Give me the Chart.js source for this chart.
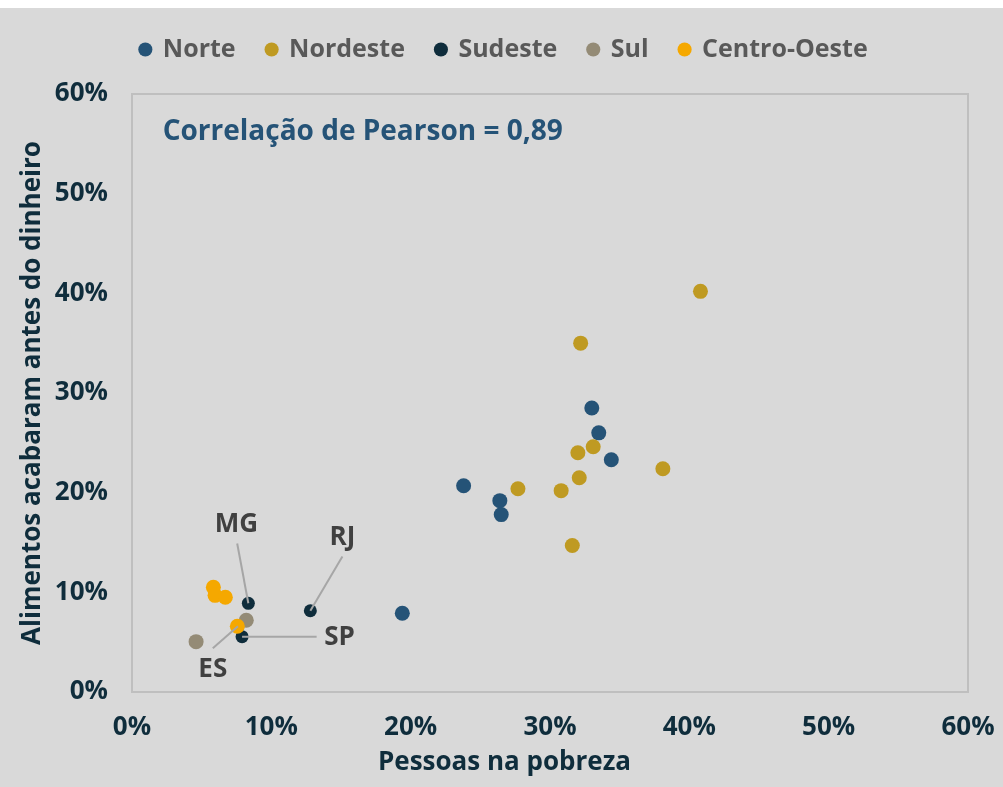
<!DOCTYPE html>
<html>
<head>
<meta charset="utf-8">
<script src="https://cdn.jsdelivr.net/npm/chart.js@4/dist/chart.umd.min.js"></script>
<style>
  body { margin: 0; background: #fff; }
  #wrap { position: absolute; left: 0; top: 8px; width: 1003px; height: 779px; background: #D9D9D9; }
</style>
</head>
<body>
<div id="wrap"><canvas id="c" width="1003" height="779"></canvas></div>
<script>
// Pessoas na pobreza (x, %) vs alimentos acabaram antes do dinheiro (y, %)
const norteX = [33.0, 33.5, 34.4, 23.8, 26.4, 26.5, 19.4];
const norteY = [28.5, 26.0, 23.3, 20.7, 19.2, 17.8, 7.9];

const nordesteX = [40.8, 32.2, 33.1, 32.0, 38.1, 32.1, 27.7, 30.8, 31.6];
const nordesteY = [40.2, 35.0, 24.6, 24.0, 22.4, 21.5, 20.4, 20.2, 14.7];

const sudesteUF = ['MG', 'RJ', 'SP', 'ES'];
const sudesteX = [8.35, 12.8, 7.9, 7.6];
const sudesteY = [8.9, 8.15, 5.55, 6.6];

const sulX = [8.2, 4.6];
const sulY = [7.2, 5.05];

const centroOesteX = [5.84, 5.96, 6.7, 7.56];
const centroOesteY = [10.5, 9.7, 9.5, 6.6];

const axisTicks = [0, 10, 20, 30, 40, 50, 60];
const pearsonText = 'Correlação de Pearson = 0,89';

// label placement for the Sudeste callouts (in axis units)
const callouts = {
    MG: { text: [7.5, 16.75], from: [7.55, 14.9] },
    RJ: { text: [15.1, 15.45], from: [15.1, 13.6] },
    SP: { text: [14.9, 5.5], from: [13.25, 5.55] },
    ES: { text: [5.8, 2.2], from: [5.8, 4.4] }
};

function pts(xs, ys) {
    return xs.map((x, i) => ({ x: x, y: ys[i] }));
}

const INK = '#0F2D3C';
Chart.defaults.font.family = "'Open Sans', sans-serif";

// legend is fixed in height so the plot box lands where it should,
// and nudged so it sits centred over the whole page like the original
const legendHeight = {
    id: 'legendHeight',
    beforeInit(chart) {
        const legend = chart.legend;
        const fit = legend.fit;
        legend.fit = function () {
            fit.bind(legend)();
            this.height = 86;
        };
        const draw = legend.draw;
        legend.draw = function () {
            const ctx = chart.ctx;
            ctx.save();
            ctx.translate(20, -2);
            draw.bind(legend)();
            ctx.restore();
        };
    }
};

const frameAndNotes = {
    id: 'frameAndNotes',
    beforeDatasetsDraw(chart) {
        const { ctx, chartArea: a } = chart;
        ctx.save();
        ctx.strokeStyle = '#BFBFBF';
        ctx.lineWidth = 2;
        ctx.strokeRect(a.left, a.top, a.right - a.left, a.bottom - a.top);
        ctx.restore();
    },
    afterDatasetsDraw(chart) {
        const { ctx, scales: { x, y } } = chart;
        ctx.save();
        // leader lines
        ctx.strokeStyle = '#A6A6A6';
        ctx.lineWidth = 2;
        sudesteUF.forEach((uf, i) => {
            const c = callouts[uf];
            ctx.beginPath();
            ctx.moveTo(x.getPixelForValue(c.from[0]), y.getPixelForValue(c.from[1]));
            ctx.lineTo(x.getPixelForValue(sudesteX[i]), y.getPixelForValue(sudesteY[i]));
            ctx.stroke();
        });
        ctx.fillStyle = '#404040';
        ctx.font = "bold 26px 'Open Sans', sans-serif";
        ctx.textAlign = 'center';
        ctx.textBaseline = 'middle';
        sudesteUF.forEach(uf => {
            const c = callouts[uf];
            ctx.fillText(uf, x.getPixelForValue(c.text[0]), y.getPixelForValue(c.text[1]));
        });
        // correlation note
        ctx.fillStyle = '#255377';
        ctx.font = "bold 28px 'Open Sans', sans-serif";
        ctx.textAlign = 'left';
        ctx.fillText(pearsonText, x.getPixelForValue(2.2), y.getPixelForValue(56.2));
        ctx.restore();
    }
};

const tickFont = { size: 26, weight: 'bold' };

new Chart(document.getElementById('c'), {
    type: 'scatter',
    data: {
        // reversed so Centro-Oeste is painted on top; legend is reversed back
        datasets: [
            { label: 'Centro-Oeste', data: pts(centroOesteX, centroOesteY), backgroundColor: '#F5A800', pointRadius: 7.5 },
            { label: 'Sul', data: pts(sulX, sulY), backgroundColor: '#948B76', pointRadius: 7.5 },
            { label: 'Sudeste', data: pts(sudesteX, sudesteY), backgroundColor: '#0F2D3C', pointRadius: 6.5 },
            { label: 'Nordeste', data: pts(nordesteX, nordesteY), backgroundColor: '#BF9A22', pointRadius: 7.5 },
            { label: 'Norte', data: pts(norteX, norteY), backgroundColor: '#255377', pointRadius: 7.5 }
        ].map(d => Object.assign(d, { borderWidth: 0, pointHoverRadius: d.pointRadius }))
    },
    options: {
        responsive: false,
        animation: false,
        layout: { padding: { left: 0, right: 35, top: 0, bottom: 0 } },
        plugins: {
            tooltip: { enabled: false },
            legend: {
                position: 'top',
                reverse: true,
                labels: {
                    usePointStyle: true,
                    pointStyle: 'circle',
                    boxWidth: 10,
                    boxHeight: 10,
                    padding: 31,
                    color: '#595959',
                    font: { size: 25, weight: 'bold' }
                }
            }
        },
        scales: {
            x: {
                min: 0, max: 60,
                afterBuildTicks: s => { s.ticks = axisTicks.map(v => ({ value: v })); },
                afterFit: s => { s.height = 95; s.paddingLeft = 0; s.paddingRight = 0; },
                grid: { display: false, drawTicks: false },
                border: { display: false },
                ticks: { callback: v => v + '%', color: INK, font: tickFont, padding: 20, maxRotation: 0 },
                title: {
                    display: true,
                    text: 'Pessoas na pobreza' + '\u2002'.repeat(7),
                    color: INK,
                    font: { size: 26, weight: 'bold' },
                    padding: { top: 9, bottom: 9 }
                }
            },
            y: {
                min: 0, max: 60,
                afterBuildTicks: s => { s.ticks = axisTicks.map(v => ({ value: v })); },
                afterFit: s => { s.width = 132; s.paddingTop = 0; s.paddingBottom = 0; },
                grid: { display: false, drawTicks: false },
                border: { display: false },
                ticks: { callback: v => v + '%', color: INK, font: tickFont, padding: 24 },
                title: {
                    display: true,
                    text: 'Alimentos acabaram antes do dinheiro',
                    color: INK,
                    font: { size: 26, weight: 'bold' },
                    padding: { top: 17, bottom: 17 }
                }
            }
        }
    },
    plugins: [legendHeight, frameAndNotes]
});
</script>
</body>
</html>
